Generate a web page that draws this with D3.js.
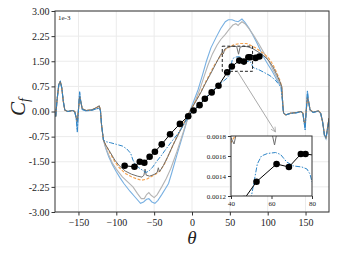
<html>
  <head>
    <meta charset="utf-8">
    <title>Cf vs theta</title>
    <script src="https://cdn.jsdelivr.net/npm/d3@7/dist/d3.min.js"></script>
    <style>
      body { margin: 0; background: #fff; }
      text { font-family: "Liberation Serif", "DejaVu Serif", serif; fill: #222; }
    </style>
  </head>
  <body>
    <svg id="chart"></svg>
    <script>
      'use strict';

      // skin friction (x 1e-3) against angle
      let lightBlue = [[-180,-0.15],[-178.5,0.3],[-176,0.8],[-174,0.9],[-172,0.7],[-170,0.3],[-168,0.04],[-164,0.0],[-158,0.03],[-155,0.0],[-153,-0.2],[-151.5,-0.62],[-150,0.05],[-148.5,0.6],[-147,0.32],[-145,0.06],[-140,0.02],[-132,0.04],[-126,0.08],[-122.5,0.1],[-121,0.02],[-119.5,-0.4],[-117,-0.85],
        [-114,-1.1],[-110,-1.35],[-105,-1.6],[-100,-1.8],[-95,-1.98],[-90,-2.15],[-82,-2.38],[-75,-2.56],[-68,-2.74],[-64,-2.7],[-60,-2.62],[-57,-2.6],[-53,-2.7],[-49,-2.74],[-45,-2.65],[-40,-2.48],[-35,-2.3],[-31,-2.15],[-27,-1.85],[-20,-1.3],[-12,-0.7],[-3,0.0],[3,0.35],[8,0.65],[14,1.1],[19,1.5],[25,1.9],[32,2.22],[38,2.48],[44,2.68],[48,2.74],[53,2.74],[57,2.7],[61,2.68],[66,2.76],[70,2.66],[75,2.5],[80,2.3],[86,2.04],[94,1.65],[100,1.42],[106,1.2],[112,0.95],[117,0.78],[118.5,0.7],[120,0.2],
        [121,-0.05],[124,-0.1],[130,-0.06],[138,-0.04],[144,0.0],[146.5,-0.05],[148,-0.3],[149.5,-0.55],[151,0.05],[152.5,0.62],[154,0.3],[156,0.04],[160,-0.03],[167,0.01],[170,-0.06],[172.5,-0.3],[175,-0.72],[177,-0.82],[179,-0.55],[181,-0.25]];

      let lightGray = [[-180,-0.15],[-178.5,0.3],[-176,0.78],[-174,0.88],[-172,0.7],[-170,0.3],[-168,0.04],[-164,0.0],[-158,0.03],[-155,0.0],[-153,-0.18],[-151.5,-0.3],[-150,0.05],[-148.5,0.45],[-147,0.3],[-145,0.08],[-140,0.03],[-132,0.05],[-126,0.12],[-122.5,0.16],[-121,0.05],[-119.5,-0.4],[-117,-0.85],
        [-114,-1.08],[-110,-1.3],[-105,-1.55],[-100,-1.72],[-92,-1.95],[-85,-2.1],[-78,-2.25],[-72,-2.45],[-67,-2.6],[-63,-2.6],[-60,-2.48],[-57,-2.42],[-54,-2.5],[-50,-2.57],[-46,-2.48],[-40,-2.25],[-34,-2.0],[-28,-1.7],[-20,-1.2],[-12,-0.65],[-3,0.0],[4,0.3],[10,0.64],[16,1.05],[21,1.38],[27,1.72],[33,1.98],[38,2.15],[44,2.3],[49,2.45],[54,2.58],[58,2.62],[61,2.57],[63,2.62],[66,2.68],[70,2.62],[76,2.45],[82,2.25],[88,2.03],[95,1.75],[102,1.48],[108,1.2],[113,0.98],[117,0.8],[118.5,0.72],[120,0.2],
        [121,-0.05],[124,-0.1],[130,-0.05],[138,-0.03],[144,0.0],[146.5,-0.05],[148,-0.3],[149.5,-0.35],[151,0.05],[152.5,0.42],[154,0.3],[156,0.05],[160,-0.02],[167,0.02],[170,-0.05],[172.5,-0.3],[175,-0.7],[177,-0.78],[179,-0.5],[181,-0.2]];

      let orange = [[-180,-0.15],[-178.5,0.3],[-176,0.8],[-174,0.9],[-172,0.7],[-170,0.3],[-168,0.04],[-164,0.0],[-158,0.03],[-155,0.0],[-153,-0.18],[-151.5,-0.3],[-150,0.05],[-148.5,0.45],[-147,0.3],[-145,0.08],[-140,0.03],[-132,0.05],[-126,0.12],[-122.5,0.16],[-121,0.05],[-119.5,-0.4],[-117,-0.85],
        [-114,-1.0],[-108,-1.25],[-102,-1.5],[-96,-1.68],[-88,-1.85],[-80,-1.95],[-72,-2.02],[-66,-2.05],[-60,-2.02],[-55,-1.96],[-48,-1.87],[-42,-1.77],[-36,-1.55],[-30,-1.25],[-22,-0.85],[-14,-0.48],[-3,0.0],[5,0.32],[12,0.6],[18,0.88],[24,1.14],[30,1.4],[37,1.64],[42,1.8],[47,1.9],[55,1.99],[63,2.03],[72,2.03],[78,1.97],[84,1.9],[94,1.74],[101,1.6],[107,1.4],[112,1.15],[116,0.94],[118.5,0.75],[120,0.2],
        [121,-0.05],[124,-0.1],[130,-0.05],[138,-0.03],[144,0.0],[146.5,-0.05],[148,-0.3],[149.5,-0.35],[151,0.05],[152.5,0.42],[154,0.3],[156,0.05],[160,-0.02],[167,0.02],[170,-0.05],[172.5,-0.3],[175,-0.7],[177,-0.78],[179,-0.5],[181,-0.2]];

      let darkGray = [[-180,-0.15],[-178.5,0.3],[-176,0.8],[-174,0.9],[-172,0.7],[-170,0.3],[-168,0.04],[-164,0.0],[-158,0.03],[-155,0.0],[-153,-0.18],[-151.5,-0.3],[-150,0.05],[-148.5,0.45],[-147,0.3],[-145,0.08],[-140,0.03],[-132,0.05],[-126,0.12],[-122.5,0.17],[-121,0.05],[-119.5,-0.4],[-117,-0.85],
        [-114,-1.0],[-108,-1.22],[-102,-1.45],[-96,-1.62],[-88,-1.78],[-80,-1.87],[-72,-1.93],[-66,-1.96],[-63.5,-1.9],[-62,-1.72],[-60.5,-1.9],[-56,-1.93],[-50,-1.88],[-46,-1.82],[-44.5,-1.68],[-43,-1.8],[-38,-1.62],[-32,-1.35],[-25,-1.0],[-18,-0.68],[-10,-0.33],[-3,0.0],[5,0.3],[12,0.58],[18,0.85],[24,1.1],[30,1.36],[36,1.62],[40,1.78],[41.5,1.72],[43,1.86],[48,1.92],[54,1.95],[59,1.94],[61.5,1.71],[63.5,1.92],[68,1.95],[74,1.93],[80,1.88],[86,1.8],[94,1.68],[101,1.53],[107,1.33],[112,1.1],[116,0.9],[118.5,0.75],[120,0.2],
        [121,-0.05],[124,-0.1],[130,-0.05],[138,-0.03],[144,0.0],[146.5,-0.05],[148,-0.3],[149.5,-0.35],[151,0.05],[152.5,0.42],[154,0.3],[156,0.05],[160,-0.02],[167,0.02],[170,-0.05],[172.5,-0.3],[175,-0.7],[177,-0.78],[179,-0.5],[181,-0.2]];

      let blueDashDot = [[-180,-0.15],[-178.5,0.3],[-176,0.8],[-174,0.9],[-172,0.7],[-170,0.3],[-168,0.04],[-164,0.0],[-158,0.03],[-155,0.0],[-153,-0.2],[-151.5,-0.6],[-150,0.05],[-148.5,0.58],[-147,0.3],[-145,0.06],[-140,0.02],[-132,0.04],[-126,0.08],[-122.5,0.1],[-121,0.02],[-119.5,-0.4],[-117,-0.85],
        [-114,-0.9],[-108,-0.93],[-100,-0.98],[-92,-1.03],[-86,-1.12],[-81,-1.25],[-78,-1.45],[-75,-1.58],[-70,-1.68],[-65,-1.76],[-61,-1.82],[-57,-1.78],[-52,-1.66],[-46,-1.47],[-40,-1.3],[-36,-1.17],[-28,-0.93],[-20,-0.7],[-12,-0.44],[-3,-0.08],[0,0.0],[8,0.18],[16,0.37],[24,0.55],[33,0.74],[40,0.88],[46,0.99],[49,1.08],[51,1.3],[53,1.52],[55,1.6],[58,1.625],[62,1.635],[64.5,1.615],[67.5,1.54],[71,1.5],[75,1.49],[77.5,1.47],[79,1.42],[80,1.34],[82,1.3],[88,1.25],[95,1.17],[103,1.07],[110,0.94],[115,0.8],[117.5,0.72],[119,0.4],[120.5,0.0],
        [121.5,-0.05],[124,-0.1],[130,-0.06],[138,-0.04],[144,0.0],[146.5,-0.05],[148,-0.3],[149.5,-0.55],[151,0.05],[152.5,0.6],[154,0.3],[156,0.04],[160,-0.03],[167,0.01],[170,-0.06],[172.5,-0.3],[175,-0.72],[177,-0.8],[179,-0.55],[181,-0.25]];

      // the black line with round markers
      let markerTheta = [-89, -76, -69, -63, -56, -49, -40, -29, -16, -5, 2, 10, 17, 26, 35, 46.5, 52.6, 62.5, 68.6, 74.5, 76.8, 84, 89];
      let markerCf = [-1.62, -1.65, -1.5, -1.53, -1.35, -1.2, -0.98, -0.68, -0.37, -0.14, 0.03, 0.19, 0.38, 0.57, 0.77, 1.17, 1.343, 1.52, 1.49, 1.62, 1.62, 1.6, 1.64];

      let xTicks = [-150, -100, -50, 0, 50, 100, 150];
      let yTicks = [-3, -2.25, -1.5, -0.75, 0, 0.75, 1.5, 2.25, 3];
      let insetXTicks = [40, 60, 80];
      let insetYTicks = [1.2, 1.4, 1.6, 1.8];
      let zoomBox = { x0: 40, x1: 80, y0: 1.2, y1: 1.95 };

      let series = [
        { data: lightBlue, color: '#78b0e2', width: 1.1, dash: null },
        { data: lightGray, color: '#b4b4b4', width: 1.1, dash: null },
        { data: orange, color: '#f5a350', width: 1.2, dash: '3,1.6' },
        { data: darkGray, color: '#6e6e6e', width: 1.0, dash: null },
        { data: blueDashDot, color: '#2f86c8', width: 1.0, dash: '5,1.5,1.5,1.5' }
      ];
      let markers = markerTheta.map(function (t, i) { return [t, markerCf[i]]; });

      let W = 337, H = 253;
      let svg = d3.select('#chart').attr('width', W).attr('height', H);

      // main axes box
      let pL = 55, pR = 329, pT = 11, pB = 212;
      let x = d3.scaleLinear().domain([-181, 181]).range([pL, pR]);
      let y = d3.scaleLinear().domain([-3, 3]).range([pB, pT]);

      svg.append('clipPath').attr('id', 'mainClip').append('rect')
        .attr('x', pL).attr('y', pT).attr('width', pR - pL).attr('height', pB - pT);

      // grid
      let grid = svg.append('g');
      grid.selectAll('.gx').data(xTicks).enter().append('line')
        .attr('x1', d => x(d)).attr('x2', d => x(d)).attr('y1', pT).attr('y2', pB)
        .attr('stroke', '#ebebeb').attr('stroke-width', 1);
      grid.selectAll('.gy').data(yTicks).enter().append('line')
        .attr('y1', d => y(d)).attr('y2', d => y(d)).attr('x1', pL).attr('x2', pR)
        .attr('stroke', '#ebebeb').attr('stroke-width', 1);

      let line = d3.line().x(d => x(d[0])).y(d => y(d[1]));
      let plot = svg.append('g').attr('clip-path', 'url(#mainClip)');
      series.forEach(function (s) {
        plot.append('path').attr('d', line(s.data)).attr('fill', 'none')
          .attr('stroke', s.color).attr('stroke-width', s.width)
          .attr('stroke-dasharray', s.dash);
      });
      plot.append('path').attr('d', line(markers)).attr('fill', 'none')
        .attr('stroke', '#000').attr('stroke-width', 1);
      plot.selectAll('.mk').data(markers).enter().append('circle')
        .attr('cx', d => x(d[0])).attr('cy', d => y(d[1])).attr('r', 3.3).attr('fill', '#000');

      // dashed box showing the zoomed region
      svg.append('rect')
        .attr('x', x(zoomBox.x0)).attr('y', y(zoomBox.y1))
        .attr('width', x(zoomBox.x1) - x(zoomBox.x0)).attr('height', y(zoomBox.y0) - y(zoomBox.y1))
        .attr('fill', 'none').attr('stroke', '#222').attr('stroke-width', 1).attr('stroke-dasharray', '3,2');

      // axes
      let xAxis = svg.append('g').attr('transform', 'translate(0,' + pB + ')')
        .call(d3.axisBottom(x).tickValues(xTicks).tickSize(3.5).tickPadding(3)
          .tickFormat(d => d < 0 ? '\u2212' + Math.abs(d) : d));
      let yAxis = svg.append('g').attr('transform', 'translate(' + pL + ',0)')
        .call(d3.axisLeft(y).tickValues(yTicks).tickSize(3.5).tickPadding(2)
          .tickFormat(d => d.toFixed(2)));
      [xAxis, yAxis].forEach(function (a) {
        a.select('.domain').remove();
        a.selectAll('line').attr('stroke', '#333');
        a.selectAll('text').attr('font-size', 10).attr('font-family', '"Liberation Serif", serif').attr('fill', '#222');
      });
      svg.append('rect').attr('x', pL).attr('y', pT).attr('width', pR - pL).attr('height', pB - pT)
        .attr('fill', 'none').attr('stroke', '#333').attr('stroke-width', 1);

      svg.append('text').attr('x', pL + 3).attr('y', pT + 9).attr('font-size', 7)
        .attr('fill', '#222').text('1e-3');

      // axis titles
      let yl = svg.append('text').attr('transform', 'translate(25,107) rotate(-90)')
        .attr('text-anchor', 'middle').attr('font-style', 'italic').attr('font-size', 21);
      yl.append('tspan').text('C');
      yl.append('tspan').attr('font-size', 14).attr('dy', 4).text('f');
      svg.append('text').attr('x', x(0)).attr('y', 244).attr('text-anchor', 'middle')
        .attr('font-style', 'italic').attr('font-size', 19).text('\u03b8');

      // inset
      let iL = 231, iR = 312, iT = 136, iB = 196;
      let xi = d3.scaleLinear().domain([40, 80]).range([iL, iR]);
      let yi = d3.scaleLinear().domain([1.2, 1.8]).range([iB, iT]);

      // arrow from the box to the inset
      svg.append('defs').append('marker').attr('id', 'arrow')
        .attr('viewBox', '0 0 10 10').attr('refX', 9).attr('refY', 5)
        .attr('markerWidth', 6).attr('markerHeight', 6).attr('orient', 'auto')
        .append('path').attr('d', 'M1,1 L9,5 L1,9').attr('fill', 'none').attr('stroke', '#aaa').attr('stroke-width', 1.3);
      svg.append('line').attr('x1', x(60)).attr('y1', y(zoomBox.y0))
        .attr('x2', xi(62)).attr('y2', iT - 4)
        .attr('stroke', '#aaa').attr('stroke-width', 1).attr('marker-end', 'url(#arrow)');

      svg.append('clipPath').attr('id', 'insetClip').append('rect')
        .attr('x', iL).attr('y', iT).attr('width', iR - iL).attr('height', iB - iT);
      svg.append('rect').attr('x', iL).attr('y', iT).attr('width', iR - iL).attr('height', iB - iT).attr('fill', '#fff');

      let iline = d3.line().x(d => xi(d[0])).y(d => yi(d[1]));
      let inset = svg.append('g').attr('clip-path', 'url(#insetClip)');
      series.forEach(function (s) {
        inset.append('path').attr('d', iline(s.data)).attr('fill', 'none')
          .attr('stroke', s.color).attr('stroke-width', s.width)
          .attr('stroke-dasharray', s.dash);
      });
      inset.append('path').attr('d', iline(markers)).attr('fill', 'none')
        .attr('stroke', '#000').attr('stroke-width', 1);
      inset.selectAll('.mk').data(markers).enter().append('circle')
        .attr('cx', d => xi(d[0])).attr('cy', d => yi(d[1])).attr('r', 3.3).attr('fill', '#000');

      let xiAxis = svg.append('g').attr('transform', 'translate(0,' + iB + ')')
        .call(d3.axisBottom(xi).tickValues(insetXTicks).tickSize(3).tickPadding(2));
      let yiAxis = svg.append('g').attr('transform', 'translate(' + iL + ',0)')
        .call(d3.axisLeft(yi).tickValues(insetYTicks).tickSize(3).tickPadding(2)
          .tickFormat(d => (d / 1000).toFixed(4)));
      [xiAxis, yiAxis].forEach(function (a) {
        a.select('.domain').remove();
        a.selectAll('line').attr('stroke', '#333');
        a.selectAll('text').attr('font-size', 7).attr('font-family', '"Liberation Serif", serif').attr('fill', '#222');
      });
      svg.append('rect').attr('x', iL).attr('y', iT).attr('width', iR - iL).attr('height', iB - iT)
        .attr('fill', 'none').attr('stroke', '#333').attr('stroke-width', 1);
    </script>
  </body>
</html>
